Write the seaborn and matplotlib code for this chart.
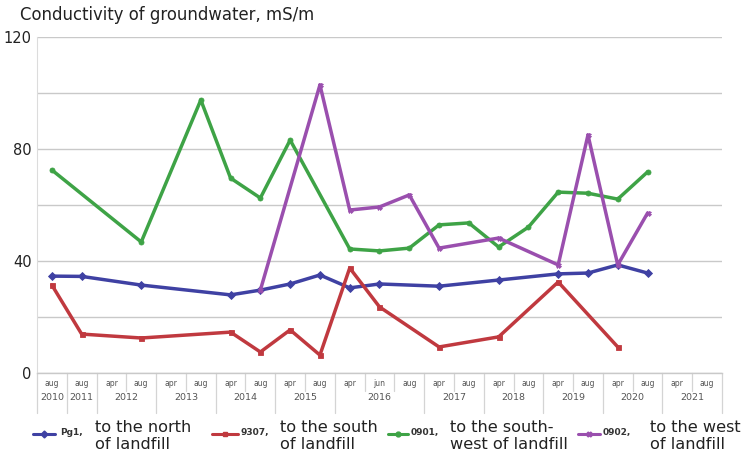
import numpy as np
import pandas as pd
import seaborn as sns
import matplotlib
matplotlib.use("Agg")
import matplotlib.pyplot as plt
from matplotlib.lines import Line2D
import matplotlib.transforms as mtransforms

# Sampling dates (two-level category axis)
months = ["aug", "aug", "apr", "aug", "apr", "aug", "apr", "aug", "apr", "aug",
          "apr", "jun", "aug", "apr", "aug", "apr", "aug", "apr", "aug", "apr",
          "aug", "apr", "aug"]
years = ["2010", "2011", "2012", "2012", "2013", "2013", "2014", "2014", "2015",
         "2015", "2016", "2016", "2016", "2017", "2017", "2018", "2018", "2019",
         "2019", "2020", "2020", "2021", "2021"]

# Conductivity, mS/m (None = not sampled)
pg1 = [34.6, 34.5, None, 31.4, None, None, 27.9, 29.6, 31.8, 35.0, 30.4, 31.8,
       None, 31.0, None, 33.2, None, 35.4, 35.7, 38.6, 35.7, None, None]
w9307 = [31.4, 13.9, None, 12.5, None, None, 14.6, 7.5, 15.4, 6.4, 37.5, 23.6,
         None, 9.3, None, 12.9, None, 32.5, None, 9.3, None, None, None]
w0901 = [72.5, None, None, 46.8, None, 97.5, 69.6, 62.5, 83.2, None, 44.3, 43.6,
         44.6, 52.9, 53.6, 45.0, 52.1, 64.6, 64.2, 62.1, 71.8, None, None]
w0902 = [None, None, None, None, None, None, None, 29.6, None, 102.9, 58.2, 59.3,
         63.6, 44.6, None, 48.2, None, 38.6, 85.0, 38.6, 57.1, None, None]

wells = ["Pg1,", "9307,", "0901,", "0902,"]
descriptions = ["to the north\nof landfill", "to the south\nof landfill",
                "to the south-\nwest of landfill", "to the west\nof landfill"]
yticks_major = [0, 40, 80, 120]

colors = {"Pg1,": "#3f41a3", "9307,": "#c0393f", "0901,": "#3ea346", "0902,": "#9a4fae"}
markers = {"Pg1,": "D", "9307,": "s", "0901,": "o", "0902,": "X"}

rows = []
for name, vals in zip(wells, [pg1, w9307, w0901, w0902]):
    for i, v in enumerate(vals):
        if v is not None:
            rows.append({"pos": i, "value": v, "well": name})
df = pd.DataFrame(rows)

sns.set_theme(style="white")
plt.rcParams["font.family"] = ["DejaVu Sans"]

W, H = 749, 466
fig = plt.figure(figsize=(W / 100, H / 100), dpi=100)
ax = fig.add_axes([37 / W, 1 - 373 / H, (722 - 37) / W, (373 - 37) / H])

sns.lineplot(data=df, x="pos", y="value", hue="well", style="well",
             palette=colors, markers=markers, dashes=False, estimator=None,
             sort=True, linewidth=2.5, markersize=3.6, markeredgewidth=0.6,
             legend=False, ax=ax)
for ln in ax.get_lines():
    ln.set_markeredgecolor(ln.get_color())

n = len(months)
ax.set_xlim(-0.5, n - 0.5)
ax.set_ylim(0, 120)
ax.set_yticks(np.arange(0, 121, 20))
ax.set_yticklabels([str(t) if t in yticks_major else "" for t in range(0, 121, 20)],
                   fontsize=10.5, color="#222222")
ax.tick_params(axis="y", length=0, pad=4)
ax.set_xticks([])
ax.set_xlabel("")
ax.set_ylabel("")
ax.grid(axis="y", color="#c9c9c9", linewidth=1.0)
ax.set_axisbelow(True)
for side in ["top", "right"]:
    ax.spines[side].set_visible(False)
ax.spines["left"].set_color("#dcdcdc")
ax.spines["left"].set_linewidth(0.8)
ax.spines["bottom"].set_color("#c9c9c9")
ax.spines["bottom"].set_linewidth(1.0)

# Two-level category labels beneath the axis
trans = mtransforms.blended_transform_factory(ax.transData, ax.transAxes)
px = 1.0 / (373 - 37)  # one pixel in axes-fraction units
for i, m in enumerate(months):
    ax.text(i, -10 * px, m, transform=trans, ha="center", va="center",
            fontsize=5.5, color="#555555")
groups = []
for i, y in enumerate(years):
    if groups and groups[-1][0] == y:
        groups[-1][2] = i
    else:
        groups.append([y, i, i])
for y, a, b in groups:
    ax.text((a + b) / 2, -25 * px, y, transform=trans, ha="center", va="center",
            fontsize=6.8, color="#555555")
year_edges = {a - 0.5 for _, a, _ in groups} | {n - 0.5}
for k in range(n + 1):
    edge = k - 0.5
    depth = 40 if edge in year_edges else 18
    ax.plot([edge, edge], [0, -depth * px], transform=trans, color="#d4d4d4",
            linewidth=0.9, clip_on=False)

fig.text(20 / W, 1 - 15 / H, "Conductivity of groundwater, mS/m",
         fontsize=11.9, color="#222222", ha="left", va="center")

# Legend row: line sample, well code, two-line description
legend_x = [(33, 55, 60, 95), (212, 238, 241, 280), (388, 408, 411, 450), (578, 600, 603, 650)]
yl = 1 - 434 / H
for name, desc, (x0, x1, xc, xd) in zip(wells, descriptions, legend_x):
    fig.add_artist(Line2D([x0 / W, x1 / W], [yl, yl], color=colors[name],
                          linewidth=2.2, transform=fig.transFigure))
    fig.add_artist(Line2D([(x0 + x1) / 2 / W], [yl], color=colors[name],
                          marker=markers[name], markersize=3.5,
                          markeredgecolor=colors[name], transform=fig.transFigure))
    fig.text(xc / W, yl + 0.004, name, fontsize=6.5, fontweight="bold",
             color="#333333", ha="left", va="center")
    fig.text(xd / W, 1 - 436 / H, desc, fontsize=11.6, color="#222222", ha="left",
             va="center", linespacing=1.22)

fig.savefig("out.png", dpi=100)
